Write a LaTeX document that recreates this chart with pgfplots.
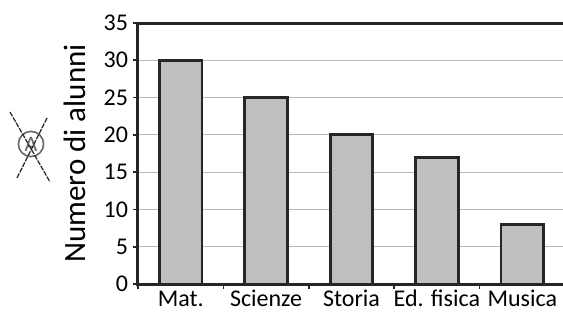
\documentclass[border=0pt]{standalone}
\usepackage{fontspec}
\setmainfont{Carlito}
\usepackage{pgfplots}
\usetikzlibrary{calc}
\pgfplotsset{compat=1.18}
\begin{document}
\begin{tikzpicture}[x=1pt,y=1pt]
\begin{axis}[
  name=ax,
  scale only axis, width=213.5pt, height=130.5pt,
  xmin=-0.5, xmax=4.5, ymin=0, ymax=35,
  axis line style={line width=1.5pt, black!85},
  ytick={0,5,...,35},
  ymajorgrids, grid style={gray!55, line width=0.5pt},
  xtick={-0.5,0.5,...,4.5},
  x tick label as interval,
  xticklabels={Mat.,Scienze,Storia,Ed. fisica,Musica},
  tick pos=left,
  tick align=outside, major tick length=2.5pt,
  tick style={black!85, line width=0.8pt},
  ylabel={Numero di alunni},
  ylabel style={font=\fontsize{15.5}{16}\selectfont},
  tick label style={font=\fontsize{12}{12}\selectfont},
  /pgf/number format/assume math mode=true,
  yticklabel style={xshift=1pt},
  xticklabel style={text height=8.6pt, text depth=2pt, inner sep=1pt, yshift=1pt},
  ylabel style={yshift=2pt},
]
\coordinate (bl) at (rel axis cs:0,0);
\addplot[ybar, bar width=0.5, fill=gray!50, draw=black!85, line width=1.4pt]
  coordinates {(0,30) (1,25) (2,20) (3,17) (4,8)};
\end{axis}
\begin{scope}[shift={($(bl)+(-69pt,-13.5pt)$)}]
% crossed-out circled A
\draw[gray!80!black, line width=0.8pt] (15.5,83.5) circle (6.3);
\node[font=\fontsize{11}{11}\selectfont, text=gray!80!black, inner sep=0] at (15.5,83.5) {A};
\draw[black!85, line width=0.6pt, dash pattern=on 2.5pt off 0.6pt] (5,99.5) -- (25,64.5);
\draw[black!85, line width=0.6pt, dash pattern=on 2.5pt off 0.6pt] (23.5,96.5) -- (8.5,66.5);
\pgfresetboundingbox
\path[use as bounding box] (0,0) rectangle (281.5,155.5);
\end{scope}
\end{tikzpicture}
\end{document}
